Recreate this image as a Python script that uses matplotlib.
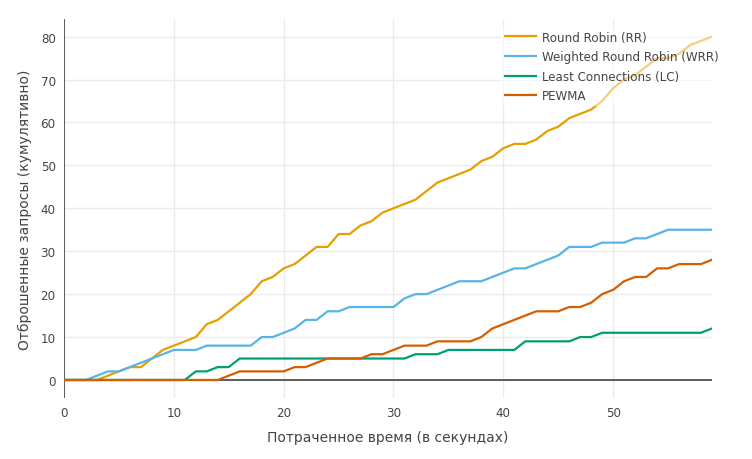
import matplotlib
matplotlib.use("Agg")
from matplotlib import pyplot as plt
import numpy as np

# seconds 0..59
t = list(range(60))

rr = [0, 0, 0, 0, 1, 2, 3, 3, 5, 7, 8, 9, 10, 13, 14, 16, 18, 20, 23, 24,
      26, 27, 29, 31, 31, 34, 34, 36, 37, 39, 40, 41, 42, 44, 46, 47, 48, 49, 51, 52,
      54, 55, 55, 56, 58, 59, 61, 62, 63, 65, 68, 70, 71, 73, 75, 75, 76, 78, 79, 80]
wrr = [0, 0, 0, 1, 2, 2, 3, 4, 5, 6, 7, 7, 7, 8, 8, 8, 8, 8, 10, 10,
       11, 12, 14, 14, 16, 16, 17, 17, 17, 17, 17, 19, 20, 20, 21, 22, 23, 23, 23, 24,
       25, 26, 26, 27, 28, 29, 31, 31, 31, 32, 32, 32, 33, 33, 34, 35, 35, 35, 35, 35]
lc = [0, 0, 0, 0, 0, 0, 0, 0, 0, 0, 0, 0, 2, 2, 3, 3, 5, 5, 5, 5,
      5, 5, 5, 5, 5, 5, 5, 5, 5, 5, 5, 5, 6, 6, 6, 7, 7, 7, 7, 7,
      7, 7, 9, 9, 9, 9, 9, 10, 10, 11, 11, 11, 11, 11, 11, 11, 11, 11, 11, 12]
pewma = [0, 0, 0, 0, 0, 0, 0, 0, 0, 0, 0, 0, 0, 0, 0, 1, 2, 2, 2, 2,
         2, 3, 3, 4, 5, 5, 5, 5, 6, 6, 7, 8, 8, 8, 9, 9, 9, 9, 10, 12,
         13, 14, 15, 16, 16, 16, 17, 17, 18, 20, 21, 23, 24, 24, 26, 26, 27, 27, 27, 28]

names = ["Round Robin (RR)", "Weighted Round Robin (WRR)",
         "Least Connections (LC)", "PEWMA"]
colors = ["#E69F00", "#56B4E9", "#009E73", "#D55E00"]

plt.rcParams['font.family'] = ['DejaVu Sans']

fig = plt.figure(figsize=(7.52, 4.6), dpi=100)
ax = fig.add_axes([64/752, 1-399/460, (712-64)/752, (399-20)/460])

for ys, n, c in zip([rr, wrr, lc, pewma], names, colors):
    ax.plot(t, ys, color=c, lw=1.6, label=n, solid_joinstyle='round', zorder=3)

ax.set_xlim(0, 59)
ax.set_ylim(-4.2, 84.1)
ax.set_xticks(range(0, 60, 10))
ax.set_yticks(range(0, 90, 10))
ax.grid(True, color="#ebebeb", lw=1)
ax.set_axisbelow(True)
for s in ax.spines.values():
    s.set_visible(False)
ax.axhline(0, color="#444444", lw=1.2, zorder=2)
ax.axvline(0, color="#444444", lw=1.2, zorder=2)
ax.tick_params(length=0, labelsize=8.6, colors="#444444", pad=6)

ax.set_xlabel("Потраченное время (в секундах)", fontsize=10, color="#444444", labelpad=8)
ax.set_ylabel("Отброшенные запросы (кумулятивно)", fontsize=10, color="#444444", labelpad=6)

leg = ax.legend(loc="upper left", bbox_to_anchor=(495/752, 1-22/460),
                bbox_transform=fig.transFigure, fontsize=8.6, frameon=True,
                framealpha=0.5, facecolor="white", edgecolor="none",
                handlelength=2.6, handletextpad=0.5, labelspacing=0.55,
                borderpad=0.3, fancybox=False)
for txt in leg.get_texts():
    txt.set_color("#444444")
leg.set_zorder(5)

fig.savefig("out.png", dpi=100)
